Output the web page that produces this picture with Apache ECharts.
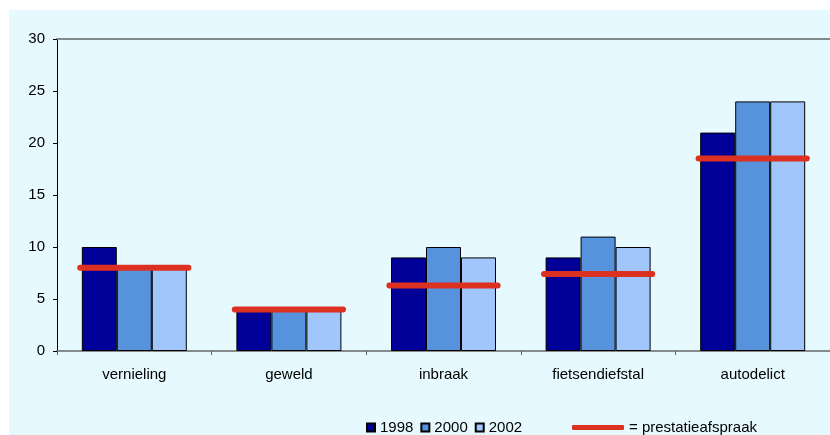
<!DOCTYPE html>
<html><head><meta charset="utf-8">
<script src="https://cdn.jsdelivr.net/npm/echarts@6/dist/echarts.min.js"></script>
<style>html,body{margin:0;padding:0;background:#fff;}#c{width:830px;height:435px;}</style>
</head><body><div id="c"></div>
<script>
var categories = ['vernieling', 'geweld', 'inbraak', 'fietsendiefstal', 'autodelict'];
var values1998 = [10, 4, 9, 9, 21];
var values2000 = [8, 4, 10, 11, 24];
var values2002 = [8, 4, 9, 10, 24];
var afspraak = [8, 4, 6.3, 7.4, 18.5];
var yTicks = [0, 5, 10, 15, 20, 25, 30];

var font = 'Liberation Sans, Arial, sans-serif';
var chart = echarts.init(document.getElementById('c'));
function bar(name, data, color) {
  return {
    name: name, type: 'bar', data: data, barWidth: 35, barGap: '0%',
    itemStyle: {color: color, borderColor: '#000', borderWidth: 1}
  };
}
chart.setOption({
  backgroundColor: '#fff',
  animation: false,
  textStyle: {fontFamily: font},
  graphic: [{type: 'rect', z: -100, silent: true, shape: {x: 9, y: 10, width: 830, height: 430}, style: {fill: '#e6f9ff'}}],
  grid: {left: 57, right: -2, top: 39, bottom: 84},
  xAxis: [{
    type: 'category', data: categories,
    axisLine: {lineStyle: {color: '#666', width: 1.5}},
    axisTick: {show: true, length: 4, lineStyle: {color: '#666'}},
    axisLabel: {color: '#000', fontSize: 15, margin: 16, fontFamily: font}
  }, {
    type: 'category', data: categories, position: 'top',
    axisLine: {lineStyle: {color: '#7f8a8a', width: 2}},
    axisTick: {show: false}, axisLabel: {show: false}
  }],
  yAxis: {
    type: 'value', min: yTicks[0], max: yTicks[yTicks.length - 1], interval: 5,
    axisLine: {show: true, lineStyle: {color: '#000', width: 1}},
    axisTick: {show: true, length: 4, lineStyle: {color: '#000'}},
    splitLine: {show: false},
    axisLabel: {color: '#000', fontSize: 15, margin: 12, fontFamily: font}
  },
  legend: [{
    data: ['1998', '2000', '2002'], left: 361, top: 415, icon: 'rect',
    itemWidth: 8, itemHeight: 8, itemGap: 7,
    textStyle: {fontSize: 15, color: '#000', fontFamily: font}
  }, {
    data: [{name: '= prestatieafspraak', icon: 'roundRect'}], left: 567, top: 415,
    itemWidth: 52, itemHeight: 5,
    textStyle: {fontSize: 15, color: '#000', fontFamily: font}
  }],
  series: [
    bar('1998', values1998, '#000099'),
    bar('2000', values2000, '#5693dc'),
    bar('2002', values2002, '#a0c6fc'),
    {
      name: '= prestatieafspraak', type: 'custom',
      data: afspraak.map(function (v, i) { return [i, v]; }),
      encode: {x: 0, y: 1},
      itemStyle: {color: '#dc3020'},
      z: 10,
      renderItem: function (params, api) {
        var c = api.coord([api.value(0), api.value(1)]);
        var w = api.size([1, 0])[0];
        return {
          type: 'line',
          shape: {x1: c[0] - w * 0.35, y1: c[1], x2: c[0] + w * 0.35, y2: c[1]},
          style: {stroke: '#dc3020', lineWidth: 6, lineCap: 'round'}
        };
      }
    }
  ]
});
</script></body></html>
